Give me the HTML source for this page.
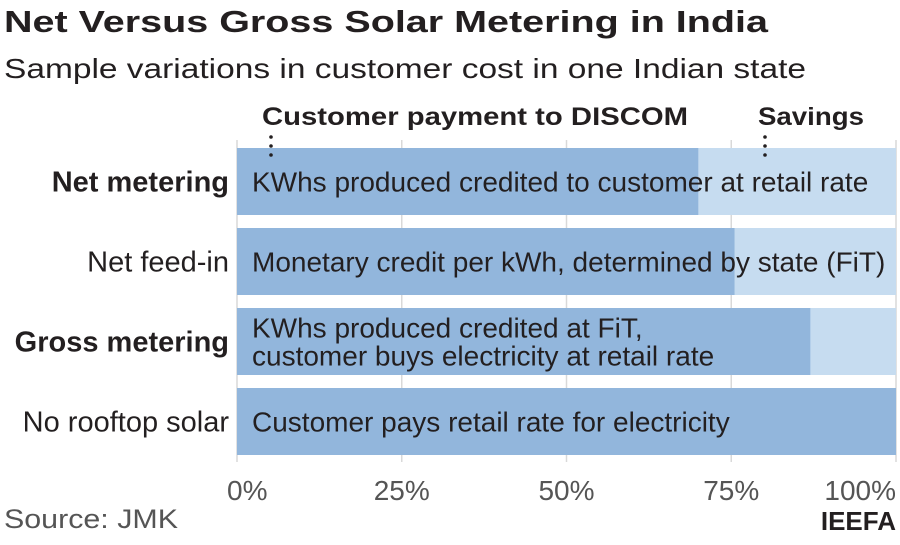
<!DOCTYPE html>
<html><head><meta charset="utf-8"><style>
body{margin:0;background:#fff;font-family:"Liberation Sans",sans-serif;}
svg text{font-family:"Liberation Sans",sans-serif;}
</style></head><body>
<svg width="900" height="540" viewBox="0 0 900 540">
<text x="4" y="32" font-size="31" font-weight="bold" fill="#231f20" textLength="764" lengthAdjust="spacingAndGlyphs">Net Versus Gross Solar Metering in India</text>
<text x="4" y="78" font-size="28" fill="#231f20" textLength="802" lengthAdjust="spacingAndGlyphs">Sample variations in customer cost in one Indian state</text>
<g id="grid"></g>
<g id="bars"></g>
<g id="labels"></g>
<g id="ticks"></g>
<text x="262" y="125" font-size="25" font-weight="bold" fill="#231f20" textLength="426" lengthAdjust="spacingAndGlyphs">Customer payment to DISCOM</text>
<text x="758" y="125" font-size="25" font-weight="bold" fill="#231f20" textLength="106" lengthAdjust="spacingAndGlyphs">Savings</text>
<g fill="#231f20">
<circle cx="271" cy="137" r="1.8"/><circle cx="271" cy="146" r="1.8"/><circle cx="271" cy="155" r="1.8"/>
<circle cx="765" cy="137" r="1.8"/><circle cx="765" cy="146" r="1.8"/><circle cx="765" cy="155" r="1.8"/>
</g>
<text x="4" y="528" font-size="27" fill="#555" textLength="174" lengthAdjust="spacingAndGlyphs">Source: JMK</text>
<text x="896" y="530" font-size="26" font-weight="bold" fill="#231f20" text-anchor="end">IEEFA</text>
<script>
const categories=["Net metering","Net feed-in","Gross metering","No rooftop solar"];
const boldCat=[true,false,true,false];
const paymentPct=[70,75.5,87,100];
const totalPct=[100,100,100,100];
const barText=[["KWhs produced credited to customer at retail rate"],["Monetary credit per kWh, determined by state (FiT)"],["KWhs produced credited at FiT,","customer buys electricity at retail rate"],["Customer pays retail rate for electricity"]];
const tickVals=[0,25,50,75,100];
const tickLabels=["0%","25%","50%","75%","100%"];
const NS="http://www.w3.org/2000/svg";
const x0=237,x1=896;
const xs=v=>x0+(x1-x0)*v/100;
const rowTop=i=>148+i*80, rowH=67;
function mk(tag,attrs,parent){const e=document.createElementNS(NS,tag);for(const k in attrs)e.setAttribute(k,attrs[k]);document.getElementById(parent).appendChild(e);return e;}
tickVals.forEach((v,i)=>{
 const g=mk("line",{x1:xs(v),x2:xs(v),y1:140,y2:462,stroke:"#d9d9d9","stroke-width":1.5},"grid");
 
 
 const t=mk("text",{x:xs(v),y:500,"font-size":28,fill:"#555","text-anchor":i==0?"start":(i==tickVals.length-1?"end":"middle")},"ticks");
 if(i==0)t.setAttribute("x",xs(v)-10);
 t.textContent=tickLabels[i];
 
 
});
categories.forEach((c,i)=>{
 const y=rowTop(i);
 const s=mk("rect",{x:xs(0),y:y,width:xs(totalPct[i])-xs(0),height:rowH,fill:"#c6dcf0"},"bars");
 
 
 const p=mk("rect",{x:xs(0),y:y,width:xs(paymentPct[i])-xs(0),height:rowH,fill:"#92b6dc"},"bars");
 
 
 const l=mk("text",{x:229,y:y+rowH/2+10,"font-size":29,fill:"#231f20","text-anchor":"end","font-weight":boldCat[i]?"bold":"normal"},"labels");
 l.textContent=c;
 
 
 const lines=barText[i];
 lines.forEach((ln,j)=>{
  const t=mk("text",{x:252,y:y+rowH/2+10+(j-(lines.length-1)/2)*28,"font-size":28,fill:"#231f20"},"labels");
  t.textContent=ln;
  
  
 });
});
</script>
</svg>
</body></html>
